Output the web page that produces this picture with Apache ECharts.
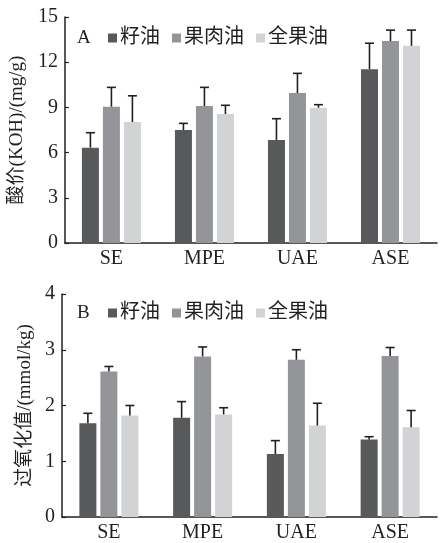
<!DOCTYPE html>
<html><head><meta charset="utf-8">
<script src="https://cdn.jsdelivr.net/npm/echarts@6/dist/echarts.min.js"></script>
<style>html,body{margin:0;padding:0;background:#fff;}#c{width:440px;height:543px;}</style>
</head><body><div id="c"></div>
<script>
var categories = ['SE', 'MPE', 'UAE', 'ASE'];
var seriesNames = ['籽油', '果肉油', '全果油'];
// Panel A: acid value (mean) and SD
var acidSeed = [6.33, 7.50, 6.84, 11.54];
var acidPulp = [9.05, 9.09, 9.95, 13.40];
var acidWhole = [8.03, 8.56, 8.98, 13.09];
var acidSeedSd = [0.99, 0.44, 1.41, 1.72];
var acidPulpSd = [1.28, 1.24, 1.31, 0.73];
var acidWholeSd = [1.74, 0.58, 0.20, 1.04];
// Panel B: peroxide value (mean) and SD
var perSeed = [1.68, 1.78, 1.13, 1.39];
var perPulp = [2.61, 2.88, 2.82, 2.89];
var perWhole = [1.82, 1.84, 1.64, 1.61];
var perSeedSd = [0.18, 0.29, 0.24, 0.05];
var perPulpSd = [0.09, 0.17, 0.18, 0.15];
var perWholeSd = [0.18, 0.12, 0.40, 0.30];
var acidTicks = [0, 3, 6, 9, 12, 15];
var perTicks = [0, 1, 2, 3, 4];

var colors = ['#58595b', '#939598', '#d1d3d4'];
var FONT = '"Liberation Serif", "Noto Sans CJK SC", serif';
var BAR_W = 17, BAR_GAP = 4;
var offsets = [-(BAR_W + BAR_GAP), 0, BAR_W + BAR_GAP];

function errSeries(gi, si, means, sds) {
  var data = means.map(function (m, i) { return [i, m, m + sds[i]]; });
  return {
    type: 'custom', xAxisIndex: gi, yAxisIndex: gi, z: 10, silent: true,
    data: data,
    renderItem: function (params, api) {
      var p0 = api.coord([api.value(0), api.value(1)]);
      var p1 = api.coord([api.value(0), api.value(2)]);
      var x = p0[0] + offsets[si];
      var st = { stroke: '#231f20', lineWidth: 1.6 };
      return { type: 'group', children: [
        { type: 'line', shape: { x1: x, y1: p0[1], x2: x, y2: p1[1] }, style: st },
        { type: 'line', shape: { x1: x - 4.5, y1: p1[1], x2: x + 4.5, y2: p1[1] }, style: st }
      ] };
    }
  };
}
function barSeries(gi, si, vals) {
  return { type: 'bar', name: seriesNames[si], xAxisIndex: gi, yAxisIndex: gi,
    data: vals, barWidth: BAR_W, barGap: (BAR_GAP / BAR_W * 100) + '%',
    itemStyle: { color: colors[si] } };
}
function xAxis(gi) {
  return { type: 'category', gridIndex: gi, data: categories,
    axisLine: { lineStyle: { color: '#231f20', width: 1.5 } },
    axisTick: { inside: true, length: 5, lineStyle: { color: '#231f20', width: 1.2 } },
    axisLabel: { color: '#231f20', fontFamily: FONT, fontSize: 20, margin: 6 } };
}
function yAxis(gi, ticks, name) {
  return { type: 'value', gridIndex: gi, min: ticks[0], max: ticks[ticks.length - 1],
    interval: ticks[1] - ticks[0], name: name, nameLocation: 'middle', nameGap: 27,
    nameTextStyle: { color: '#231f20', fontFamily: FONT, fontSize: 19 },
    splitLine: { show: false },
    axisLine: { show: true, lineStyle: { color: '#231f20', width: 1.5 } },
    axisTick: { show: true, inside: true, length: 4, lineStyle: { color: '#231f20', width: 1.2 } },
    axisLabel: { color: '#231f20', fontFamily: FONT, fontSize: 20, margin: 7 } };
}
function legend(top) {
  return { data: seriesNames, left: 103, top: top, icon: 'rect', itemWidth: 9, itemHeight: 9,
    itemGap: 12, textStyle: { color: '#231f20', fontFamily: FONT, fontSize: 20, padding: [0, 0, 0, -2] } };
}

var chart = echarts.init(document.getElementById('c'), null, { renderer: 'canvas' });
chart.setOption({
  animation: false,
  backgroundColor: '#fff',
  title: [
    { text: 'A', left: 72, top: 24, textStyle: { color: '#231f20', fontFamily: FONT, fontSize: 19, fontWeight: 'normal' } },
    { text: 'B', left: 72, top: 299, textStyle: { color: '#231f20', fontFamily: FONT, fontSize: 19, fontWeight: 'normal' } }
  ],
  legend: [legend(23), legend(298)],
  grid: [
    { left: 62, right: 3, top: 17, height: 226 },
    { left: 62, right: 3, top: 294, height: 226 }
  ],
  xAxis: [xAxis(0), xAxis(1)],
  yAxis: [yAxis(0, acidTicks, '酸价(KOH)/(mg/g)'), yAxis(1, perTicks, '过氧化值/(mmol/kg)')],
  series: [
    barSeries(0, 0, acidSeed), barSeries(0, 1, acidPulp), barSeries(0, 2, acidWhole),
    barSeries(1, 0, perSeed), barSeries(1, 1, perPulp), barSeries(1, 2, perWhole),
    errSeries(0, 0, acidSeed, acidSeedSd), errSeries(0, 1, acidPulp, acidPulpSd), errSeries(0, 2, acidWhole, acidWholeSd),
    errSeries(1, 0, perSeed, perSeedSd), errSeries(1, 1, perPulp, perPulpSd), errSeries(1, 2, perWhole, perWholeSd)
  ]
});
</script></body></html>
